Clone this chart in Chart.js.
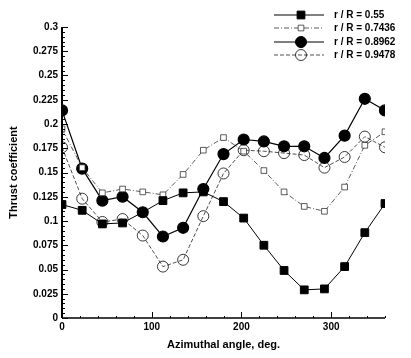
<!DOCTYPE html>
<html>
<head>
<meta charset="utf-8">
<script src="https://cdn.jsdelivr.net/npm/chart.js@4"></script>
<style>
  html, body { margin: 0; padding: 0; background: #fff; }
  canvas { display: block; }
</style>
</head>
<body>
<canvas id="myChart" width="411" height="358"></canvas>
<script>
const angles = [0, 22.5, 45, 67.5, 90, 112.5, 135, 157.5, 180, 202.5, 225, 247.5, 270, 292.5, 315, 337.5, 360];
const r055 = [0.117, 0.111, 0.097, 0.098, 0.109, 0.121, 0.129, 0.130, 0.120, 0.103, 0.075, 0.049, 0.029, 0.030, 0.053, 0.088, 0.118];
const r07436 = [0.195, 0.155, 0.129, 0.133, 0.130, 0.127, 0.148, 0.173, 0.186, 0.172, 0.152, 0.130, 0.115, 0.110, 0.135, 0.178, 0.192];
const r08962 = [0.214, 0.154, 0.121, 0.125, 0.109, 0.084, 0.093, 0.133, 0.169, 0.184, 0.182, 0.177, 0.177, 0.165, 0.188, 0.226, 0.214];
const r09478 = [0.176, 0.123, 0.099, 0.102, 0.085, 0.053, 0.060, 0.105, 0.149, 0.173, 0.172, 0.170, 0.168, 0.155, 0.166, 0.187, 0.176];
const labels = ['r / R = 0.55', 'r / R = 0.7436', 'r / R = 0.8962', 'r / R = 0.9478'];
const xTicks = [0, 100, 200, 300];
const yTicks = [0, 0.025, 0.05, 0.075, 0.1, 0.125, 0.15, 0.175, 0.2, 0.225, 0.25, 0.275, 0.3];

const FONT = 'Liberation Sans, Arial, sans-serif';

function pts(vals) {
  return vals.map((v, i) => ({ x: angles[i], y: v }));
}

const datasets = [
  {
    label: labels[0],
    data: pts(r055),
    borderColor: '#000',
    borderWidth: 1,
    pointStyle: 'rect',
    pointRadius: 5.5,
    pointBackgroundColor: '#000',
    pointBorderColor: '#000',
  },
  {
    label: labels[1],
    data: pts(r07436),
    borderColor: '#333',
    borderWidth: 0.8,
    borderDash: [5, 2, 1, 2],
    pointStyle: 'rect',
    pointRadius: 4,
    pointBackgroundColor: '#fff',
    pointBorderColor: '#333',
    pointBorderWidth: 0.8,
  },
  {
    label: labels[2],
    data: pts(r08962),
    borderColor: '#000',
    borderWidth: 1.2,
    pointStyle: 'circle',
    pointRadius: 5.5,
    pointBackgroundColor: '#000',
    pointBorderColor: '#000',
  },
  {
    label: labels[3],
    data: pts(r09478),
    borderColor: '#222',
    borderWidth: 0.8,
    borderDash: [4, 2],
    pointStyle: 'circle',
    pointRadius: 5.5,
    pointBackgroundColor: 'rgba(255,255,255,0)',
    pointBorderColor: '#222',
    pointBorderWidth: 0.9,
  },
];

// inward major/minor ticks, axis titles and the key
const decor = {
  id: 'decor',
  afterDraw(chart) {
    const { ctx, chartArea: a, scales: { x, y } } = chart;
    ctx.save();
    ctx.strokeStyle = '#000';
    // axis lines
    ctx.lineWidth = 2;
    ctx.beginPath();
    ctx.moveTo(a.left, a.top);
    ctx.lineTo(a.left, a.bottom);
    ctx.stroke();
    ctx.lineWidth = 1.5;
    ctx.beginPath();
    ctx.moveTo(a.left, a.bottom);
    ctx.lineTo(a.right, a.bottom);
    ctx.stroke();
    // y ticks
    ctx.lineWidth = 1;
    for (let k = 0; k <= 60; k++) {
      const py = Math.round(y.getPixelForValue(k * 0.005)) + 0.5;
      const len = k % 5 === 0 ? 6 : 3;
      ctx.beginPath();
      ctx.moveTo(a.left, py);
      ctx.lineTo(a.left + len, py);
      ctx.stroke();
    }
    // x ticks
    for (let k = 0; k <= 18; k++) {
      const v = k * 20;
      const px = Math.round(x.getPixelForValue(v)) + 0.5;
      const len = v % 100 === 0 ? 6 : 2;
      ctx.beginPath();
      ctx.moveTo(px, a.bottom);
      ctx.lineTo(px, a.bottom - len);
      ctx.stroke();
    }
    // axis titles
    ctx.fillStyle = '#000';
    ctx.font = 'bold 11px ' + FONT;
    ctx.textAlign = 'center';
    ctx.textBaseline = 'middle';
    ctx.fillText('Azimuthal angle, deg.', (a.left + a.right) / 2, 345);
    ctx.save();
    ctx.translate(14, (a.top + a.bottom) / 2);
    ctx.rotate(-Math.PI / 2);
    ctx.fillText('Thrust coefficient', 0, 0);
    ctx.restore();
    // key
    const rows = [15, 28, 42, 55];
    chart.data.datasets.forEach((ds, i) => {
      const ry = rows[i];
      ctx.save();
      ctx.strokeStyle = ds.borderColor;
      ctx.lineWidth = ds.borderWidth;
      ctx.setLineDash(ds.borderDash || []);
      ctx.beginPath();
      ctx.moveTo(274, ry);
      ctx.lineTo(324, ry);
      ctx.stroke();
      ctx.setLineDash([]);
      ctx.fillStyle = ds.pointBackgroundColor;
      ctx.strokeStyle = ds.pointBorderColor;
      ctx.lineWidth = ds.pointBorderWidth || 1;
      Chart.helpers.drawPoint(ctx, {
        pointStyle: ds.pointStyle,
        radius: ds.pointRadius,
        rotation: 0,
        borderWidth: ds.pointBorderWidth || 1,
      }, 301, ry);
      ctx.restore();
      ctx.fillStyle = '#000';
      ctx.font = 'bold 10px ' + FONT;
      ctx.textAlign = 'left';
      ctx.textBaseline = 'middle';
      ctx.fillText(ds.label, 334, ry);
    });
    ctx.restore();
  }
};

const ctx = document.getElementById('myChart');

new Chart(ctx, {
  type: 'line',
  data: { datasets: datasets },
  options: {
    responsive: false,
    animation: false,
    events: [],
    layout: { padding: { left: 0, right: 26, top: 27, bottom: 0 } },
    plugins: {
      legend: { display: false },
      tooltip: { enabled: false },
      title: { display: false },
    },
    scales: {
      x: {
        type: 'linear',
        min: 0,
        max: 360,
        afterBuildTicks: (s) => { s.ticks = xTicks.map(v => ({ value: v })); },
        afterFit: (s) => { s.height = 40; },
        border: { display: false },
        grid: { display: false, drawTicks: false },
        ticks: {
          color: '#000',
          padding: 3,
          maxRotation: 0,
          font: { family: FONT, size: 10, weight: 'bold' },
          callback: (v) => String(v),
        },
      },
      y: {
        type: 'linear',
        min: 0,
        max: 0.3,
        afterBuildTicks: (s) => { s.ticks = yTicks.map(v => ({ value: v })); },
        afterFit: (s) => { s.width = 62; },
        border: { display: false },
        grid: { display: false, drawTicks: false },
        ticks: {
          color: '#000',
          padding: 4,
          font: { family: FONT, size: 10, weight: 'bold' },
          callback: (v) => String(+v.toFixed(3)),
        },
      },
    },
  },
  plugins: [decor],
});
</script>
</body>
</html>
